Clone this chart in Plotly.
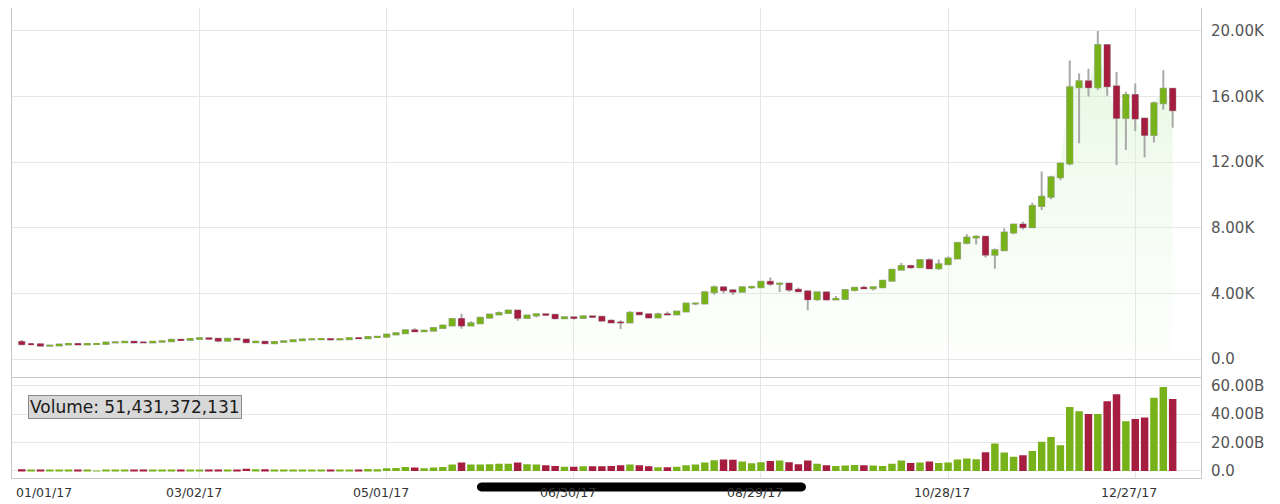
import pandas as pd
import plotly.graph_objects as go
from plotly.subplots import make_subplots

# 3-day candles, first one starting 2017-01-04
dates = pd.date_range("2017-01-04", periods=124, freq="3D")

open_ = [1044, 903, 903, 812, 822, 886, 921, 892, 918, 921,
         1011, 1015, 1054, 1013, 1010, 1051, 1079, 1167, 1165, 1222,
         1265, 1234, 1116, 1231, 1187, 1022, 1052, 965, 1044, 1080,
         1147, 1196, 1205, 1219, 1190, 1212, 1271, 1263, 1345, 1351,
         1491, 1578, 1755, 1687, 1726, 1888, 2042, 2446, 2038, 2175,
         2517, 2712, 2806, 2958, 2506, 2655, 2730, 2694, 2480, 2546,
         2507, 2601, 2571, 2338, 2233, 2228, 2817, 2731, 2529, 2727,
         2718, 2895, 3379, 3381, 4073, 4376, 4193, 4100, 4371, 4382,
         4703, 4582, 4597, 4226, 4130, 3637, 4065, 3631, 3660, 4200,
         4338, 4318, 4370, 4772, 5446, 5678, 5590, 6031, 5526, 5780,
         6130, 7078, 7407, 7459, 6357, 6635, 7708, 8200, 8038, 9330,
         9888, 11074, 11916, 16569, 16936, 16564, 19140, 16624, 14699, 16099,
         14656, 13657, 15599, 16477]

high = [1159, 942, 913, 836, 908, 937, 928, 920, 924, 1014,
        1039, 1064, 1068, 1017, 1053, 1082, 1172, 1177, 1227, 1290,
        1280, 1242, 1234, 1251, 1190, 1126, 1055, 1048, 1083, 1150,
        1200, 1210, 1232, 1227, 1216, 1285, 1286, 1350, 1358, 1497,
        1597, 1762, 1875, 1805, 1906, 2104, 2492, 2763, 2299, 2537,
        2753, 2900, 2981, 2973, 2670, 2763, 2758, 2700, 2604, 2586,
        2622, 2624, 2606, 2424, 2370, 2907, 2868, 2783, 2826, 2902,
        2912, 3390, 3457, 4096, 4484, 4400, 4211, 4453, 4470, 4745,
        4975, 4651, 4660, 4345, 4140, 4120, 4108, 3844, 4240, 4369,
        4471, 4394, 4823, 5484, 5856, 5750, 6070, 6147, 6071, 6250,
        7154, 7601, 7542, 7500, 6731, 7977, 8265, 8370, 9522, 11428,
        11175, 11990, 18200, 17400, 17700, 20000, 19200, 17500, 16300, 16800,
        14700, 15700, 17600, 16500]

low = [851, 880, 756, 796, 812, 885, 886, 888, 910, 919,
       1005, 1008, 940, 991, 1008, 1040, 1078, 1131, 1156, 1219,
       1226, 1020, 1116, 1185, 958, 1003, 895, 950, 1020, 1075,
       1115, 1170, 1195, 1166, 1173, 1206, 1234, 1262, 1316, 1350,
       1482, 1577, 1660, 1680, 1716, 1876, 2040, 1850, 2028, 2148,
       2485, 2690, 2786, 2340, 2450, 2538, 2654, 2406, 2472, 2413,
       2495, 2501, 2312, 2160, 1837, 2209, 2653, 2450, 2518, 2669,
       2660, 2888, 3275, 3373, 3924, 3988, 3902, 4051, 4271, 4355,
       4468, 4078, 4095, 4106, 2975, 3550, 3545, 3600, 3620, 4120,
       4264, 4175, 4364, 4717, 5402, 5500, 5534, 5460, 5434, 5720,
       6112, 6999, 6983, 6194, 5507, 6565, 7600, 7898, 8015, 9084,
       9735, 10900, 11802, 13151, 16001, 16400, 16050, 11833, 12750, 13900,
       12300, 13200, 15200, 14100]

close = [903, 903, 812, 822, 886, 921, 892, 918, 921, 1011,
         1015, 1054, 1013, 1010, 1051, 1079, 1167, 1165, 1222, 1265,
         1234, 1116, 1231, 1187, 1022, 1052, 965, 1044, 1080, 1147,
         1196, 1205, 1219, 1190, 1212, 1271, 1263, 1345, 1351, 1491,
         1578, 1755, 1687, 1726, 1888, 2042, 2446, 2038, 2175, 2517,
         2712, 2806, 2958, 2506, 2655, 2730, 2694, 2480, 2546, 2507,
         2601, 2571, 2338, 2233, 2228, 2817, 2731, 2529, 2727, 2718,
         2895, 3379, 3381, 4073, 4376, 4193, 4100, 4371, 4382, 4703,
         4582, 4597, 4226, 4130, 3637, 4065, 3631, 3660, 4200, 4338,
         4318, 4370, 4772, 5446, 5678, 5590, 6031, 5526, 5780, 6130,
         7078, 7407, 7459, 6357, 6635, 7708, 8200, 8038, 9330, 9888,
         11074, 11916, 16569, 16936, 16564, 19140, 16624, 14699, 16099, 14656,
         13657, 15599, 16477, 15170]

# volume in billions
volume = [1.2, 0.6, 0.5, 0.3, 0.4, 0.35, 0.35, 0.35, 0.25, 0.45,
          0.4, 0.45, 0.55, 0.3, 0.35, 0.3, 0.6, 0.55, 0.6, 0.9,
          0.7, 1.0, 0.6, 0.8, 1.5, 1.2, 1.1, 0.8, 0.8, 1.0,
          1.0, 0.75, 0.8, 0.8, 0.65, 0.9, 0.8, 1.3, 1.2, 1.8,
          2.0, 2.8, 2.3, 1.8, 2.4, 2.8, 4.5, 5.9, 4.5, 4.5,
          4.7, 5.0, 5.0, 5.9, 4.7, 4.5, 4.0, 3.5, 3.0, 3.0,
          3.2, 3.2, 3.2, 3.5, 4.0, 4.5, 4.0, 3.3, 2.6, 2.6,
          3.0, 4.0, 4.5, 5.9, 7.5, 8.0, 7.8, 6.6, 5.4, 6.1,
          7.0, 7.3, 6.1, 4.7, 7.3, 5.0, 4.0, 3.5, 3.8, 4.2,
          4.0, 3.8, 3.5, 5.0, 7.3, 5.6, 5.9, 6.6, 5.6, 5.9,
          8.0, 8.7, 8.2, 13.2, 19.3, 13.0, 10.0, 11.0, 14.0, 20.5,
          23.8, 18.0, 45.0, 42.0, 40.0, 40.0, 49.0, 54.0, 35.0, 36.5,
          37.6, 51.43, 59.0, 50.6]

tick_dates = ["2017-01-01", "2017-03-02", "2017-05-01", "2017-06-30",
              "2017-08-29", "2017-10-28", "2017-12-27"]
tick_labels = ["01/01/17", "03/02/17", "05/01/17", "06/30/17",
               "08/29/17", "10/28/17", "12/27/17"]
price_ticks = [0, 4000, 8000, 12000, 16000, 20000]
price_labels = ["0.0", "4.00K", "8.00K", "12.00K", "16.00K", "20.00K"]
vol_ticks = [0, 20, 40, 60]
vol_labels = ["0.0", "20.00B", "40.00B", "60.00B"]
hover_text = "Volume: 51,431,372,131"

GREEN = "#78b21a"
RED = "#a51e40"
WICK = "#a9a9a9"
GRID = "#e6e6e6"
BORDER = "#c8c8c8"
FONT = "DejaVu Sans"
PRICE_RANGE = [-1128, 21400]

bar_colors = [GREEN if c >= o else RED for o, c in zip(open_, close)]
body_hi = [max(o, c) for o, c in zip(open_, close)]
body_lo = [min(o, c) for o, c in zip(open_, close)]

# page body has an 8px margin, so the figure is 8px smaller than the window
fig = make_subplots(rows=2, cols=1, shared_xaxes=True, vertical_spacing=0,
                    row_heights=[0.7862, 0.2138])

# soft green area under the closing price (base price axis)
fig.add_trace(go.Scatter(
    x=dates, y=close, mode="lines", line=dict(width=0, color="rgba(0,0,0,0)"),
    fill="tozeroy",
    fillgradient=dict(type="vertical", start=0, stop=20000,
                      colorscale=[[0, "rgba(225,248,220,0.05)"],
                                  [0.5, "rgba(215,245,208,0.3)"],
                                  [1, "rgba(200,240,190,0.5)"]]),
    hoverinfo="skip", showlegend=False), row=1, col=1)

# candles go on an overlaying axis so they sit above the area fill
fig.add_trace(go.Candlestick(
    x=dates, open=open_, high=high, low=low, close=close,
    increasing=dict(line=dict(color=WICK, width=2), fillcolor=GREEN),
    decreasing=dict(line=dict(color=WICK, width=2), fillcolor=RED),
    whiskerwidth=0, showlegend=False, xaxis="x", yaxis="y3"))
fig.add_trace(go.Candlestick(
    x=dates, open=open_, high=body_hi, low=body_lo, close=close,
    increasing=dict(line=dict(color=GREEN, width=1), fillcolor=GREEN),
    decreasing=dict(line=dict(color=RED, width=1), fillcolor=RED),
    whiskerwidth=0, showlegend=False, xaxis="x", yaxis="y3"))

fig.add_trace(go.Bar(
    x=dates, y=volume, marker=dict(color=bar_colors, line=dict(width=0)),
    showlegend=False), row=2, col=1)

x_range = ["2016-12-31 21:00", "2018-01-17 02:00"]
common_x = dict(type="date", range=x_range, tickvals=tick_dates, showticklabels=False,
                showgrid=True, gridcolor=GRID, gridwidth=1, zeroline=False,
                linecolor=BORDER, linewidth=1, ticks="")
fig.update_xaxes(**common_x, showline=False, rangeslider=dict(visible=False), row=1, col=1)
fig.update_xaxes(**common_x, showline=True, mirror=True, row=2, col=1)

fig.update_yaxes(side="right", range=PRICE_RANGE, tickvals=price_ticks, ticktext=price_labels,
                 showgrid=True, gridcolor=GRID, zeroline=False, showline=True, mirror=True,
                 linecolor=BORDER, ticks="", ticklabelstandoff=6,
                 tickfont=dict(family=FONT, size=15, color="#555555"), row=1, col=1)
fig.update_yaxes(side="right", range=[-5, 65.7], tickvals=vol_ticks, ticktext=vol_labels,
                 showgrid=True, gridcolor=GRID, zeroline=False, showline=True, mirror=True,
                 linecolor=BORDER, ticks="", ticklabelstandoff=6,
                 tickfont=dict(family=FONT, size=15, color="#555555"), row=2, col=1)

annotations = []
for i, (d, lab) in enumerate(zip(tick_dates, tick_labels)):
    annotations.append(dict(
        x=d, xref="x2", y=-0.0319, yref="paper", text=lab, showarrow=False,
        xanchor="left" if i == 0 else "center", xshift=2 if i == 0 else -6,
        yanchor="middle", font=dict(family=FONT, size=12.5, color="#333333")))

# hover readout box over the volume pane
annotations.append(dict(
    x=0.0135, xref="paper", y=0.1766, yref="paper", text=hover_text, showarrow=False,
    xanchor="left", yanchor="top", bgcolor="#d8d8d8", bordercolor="#8c8c8c",
    borderwidth=1, borderpad=1, font=dict(family=FONT, size=17, color="#1a1a1a")))

# scroll indicator overlay at the bottom
scroll_path = ("M -160,-4.5 L 160,-4.5 C 166,-4.5 166,4.5 160,4.5 "
               "L -160,4.5 C -166,4.5 -166,-4.5 -160,-4.5 Z")
shapes = [dict(type="path", path=scroll_path, xref="paper", yref="paper",
               xsizemode="pixel", ysizemode="pixel", xanchor=0.5294, yanchor=-0.0191,
               fillcolor="black", line=dict(width=0), layer="above")]

fig.update_layout(
    width=1272, height=496,
    margin=dict(l=4, r=79, t=0, b=26),
    paper_bgcolor="white", plot_bgcolor="white",
    showlegend=False, bargap=0.2, boxgap=0.2,
    yaxis3=dict(overlaying="y", side="right", range=PRICE_RANGE, showgrid=False,
                showticklabels=False, showline=False, zeroline=False, ticks=""),
    annotations=annotations, shapes=shapes,
    font=dict(family=FONT),
)

fig.write_html("out.html")
